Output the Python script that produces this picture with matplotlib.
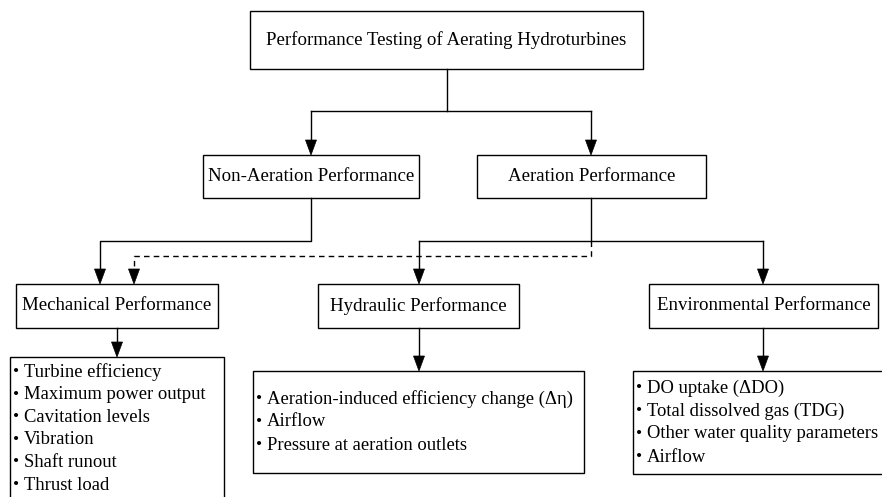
import matplotlib
matplotlib.use("Agg")
import matplotlib.pyplot as plt
from matplotlib.patches import Rectangle, Polygon

plt.rcParams['font.family'] = ['Liberation Serif', 'DejaVu Serif']

# box labels
top_label = "Performance Testing of Aerating Hydroturbines"
mid_labels = ["Non-Aeration Performance", "Aeration Performance"]
low_labels = ["Mechanical Performance", "Hydraulic Performance", "Environmental Performance"]

# bullet lists under each category
mech_items = ["Turbine efficiency", "Maximum power output", "Cavitation levels",
              "Vibration", "Shaft runout", "Thrust load"]
hyd_items = ["Aeration-induced efficiency change (\u0394\u03b7)", "Airflow",
             "Pressure at aeration outlets"]
env_items = ["DO uptake (\u0394DO)", "Total dissolved gas (TDG)",
             "Other water quality parameters", "Airflow"]

W, H = 882, 497
fig = plt.figure(figsize=(W / 100, H / 100), dpi=100)
ax = fig.add_axes([0, 0, 1, 1])
ax.set_xlim(0, W)
ax.set_ylim(H, 0)
ax.axis('off')

LW = 1.0
FS = 13.6
FS_LIST = 13.4


def box(x0, x1, y0, y1, label=None):
    ax.add_patch(Rectangle((x0, y0), x1 - x0, y1 - y0, fill=False,
                           edgecolor='black', linewidth=LW, clip_on=False))
    if label:
        ax.text((x0 + x1) / 2, (y0 + y1) / 2, label, ha='center', va='center',
                fontsize=FS)


def bullets(x0, y0, items, dy):
    for i, t in enumerate(items):
        y = y0 + i * dy
        ax.text(x0 + 6, y, "\u2022", ha='center', va='center', fontsize=12.5)
        ax.text(x0 + 14, y, t, ha='left', va='center', fontsize=FS_LIST)


def head(x, y, w=11, l=15):
    # downward arrowhead with tip at (x, y)
    ax.add_patch(Polygon([(x, y), (x - w / 2, y - l), (x + w / 2, y - l)],
                         closed=True, facecolor='black', edgecolor='black', lw=0.5))


def path(pts, dashed=False, arrow=True):
    ls = (0, (4, 3)) if dashed else '-'
    xs = [p[0] for p in pts]
    ys = [p[1] for p in pts]
    if arrow:
        ys[-1] -= 10
    ax.plot(xs, ys, color='black', lw=LW, linestyle=ls)
    if arrow:
        head(*pts[-1])


# boxes
box(250, 643, 11, 69, top_label)
box(203, 419, 155, 198, mid_labels[0])
box(477, 706, 155, 198, mid_labels[1])
box(16, 218, 284, 328, low_labels[0])
box(318, 519, 284, 328, low_labels[1])
box(649, 878, 284, 328, low_labels[2])

box(10, 224, 357, 510)
box(253, 584, 371, 473)
box(633, 895, 371, 474)

bullets(10, 372, mech_items, 22.6)
bullets(253, 399, hyd_items, 23)
bullets(633, 388, env_items, 23)

# connectors
ax.plot([447, 447], [69, 111], color='black', lw=LW)
ax.plot([311, 591], [111, 111], color='black', lw=LW)
path([(311, 111), (311, 155)])
path([(591, 111), (591, 155)])

path([(311, 198), (311, 241), (100, 241), (100, 284)])
ax.plot([591, 591], [198, 241], color='black', lw=LW)
ax.plot([419, 763], [241, 241], color='black', lw=LW)
path([(419, 241), (419, 284)])
path([(763, 241), (763, 284)])
path([(591, 241), (591, 256), (134, 256), (134, 284)], dashed=True)

path([(117, 328), (117, 357)])
path([(419, 328), (419, 371)])
path([(763, 328), (763, 371)])

fig.savefig("out.png", dpi=100)
